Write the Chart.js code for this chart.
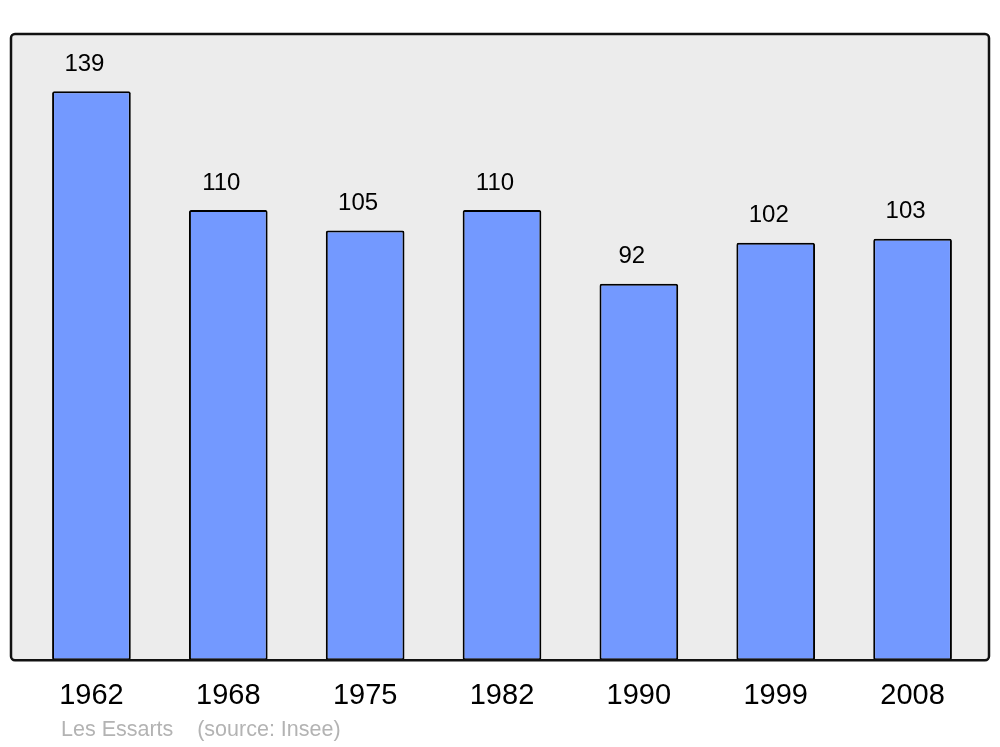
<!DOCTYPE html>
<html>
<head>
<meta charset="utf-8">
<script src="https://cdn.jsdelivr.net/npm/chart.js@4/dist/chart.umd.min.js"></script>
<style>
  html, body { margin: 0; padding: 0; background: #fff; }
  #wrap { width: 1000px; height: 747px; }
</style>
</head>
<body>
<div id="wrap"><canvas id="chart" width="1000" height="747"></canvas></div>
<script>
const years = ['1962', '1968', '1975', '1982', '1990', '1999', '2008'];
const population = [139, 110, 105, 110, 92, 102, 103];
const footer = 'Les Essarts    (source: Insee)';

// grey panel with a dark frame behind the bars
const panel = {
    id: 'panel',
    beforeDatasetsDraw(c) {
        const ctx = c.ctx;
        const bottom = c.chartArea.bottom;
        ctx.save();
        ctx.beginPath();
        ctx.roundRect(11, 34, 978, bottom - 34, 4);
        ctx.fillStyle = '#ececec';
        ctx.fill();
        ctx.restore();
    },
    afterDatasetsDraw(c) {
        const ctx = c.ctx;
        const bottom = c.chartArea.bottom;
        ctx.save();
        ctx.beginPath();
        ctx.roundRect(11, 34, 978, bottom - 34, 4);
        ctx.lineWidth = 2.5;
        ctx.strokeStyle = '#111';
        ctx.stroke();

        // value labels over the bars
        ctx.fillStyle = '#000';
        ctx.font = '24px "Liberation Sans", Arial, sans-serif';
        ctx.textAlign = 'center';
        ctx.textBaseline = 'middle';
        c.getDatasetMeta(0).data.forEach((bar, i) => {
            ctx.fillText(String(population[i]), bar.x - 7, bar.y - 27);
        });

        ctx.fillStyle = '#b3b3b3';
        ctx.font = '21.5px "Liberation Sans", Arial, sans-serif';
        ctx.textAlign = 'left';
        ctx.fillText(footer, 61, 730);
        ctx.restore();
    }
};

new Chart(document.querySelector('#chart').getContext('2d'), {
    type: 'bar',
    data: {
        labels: years,
        datasets: [{
            data: population,
            backgroundColor: '#7399ff',
            borderColor: '#000',
            borderWidth: 2,
            borderRadius: 2,
            borderSkipped: false,
            barPercentage: 0.575,
            categoryPercentage: 1
        }]
    },
    options: {
        responsive: false,
        animation: false,
        events: [],
        layout: { padding: { left: 23, right: 19, top: 34, bottom: 16 } },
        plugins: {
            legend: { display: false },
            tooltip: { enabled: false }
        },
        scales: {
            x: {
                grid: { display: false, drawTicks: false },
                border: { display: false },
                ticks: {
                    color: '#000',
                    padding: 18,
                    font: { size: 29, family: '"Liberation Sans", Arial, sans-serif' }
                }
            },
            y: {
                display: false,
                min: 0,
                max: 153
            }
        }
    },
    plugins: [panel]
});
</script>
</body>
</html>
